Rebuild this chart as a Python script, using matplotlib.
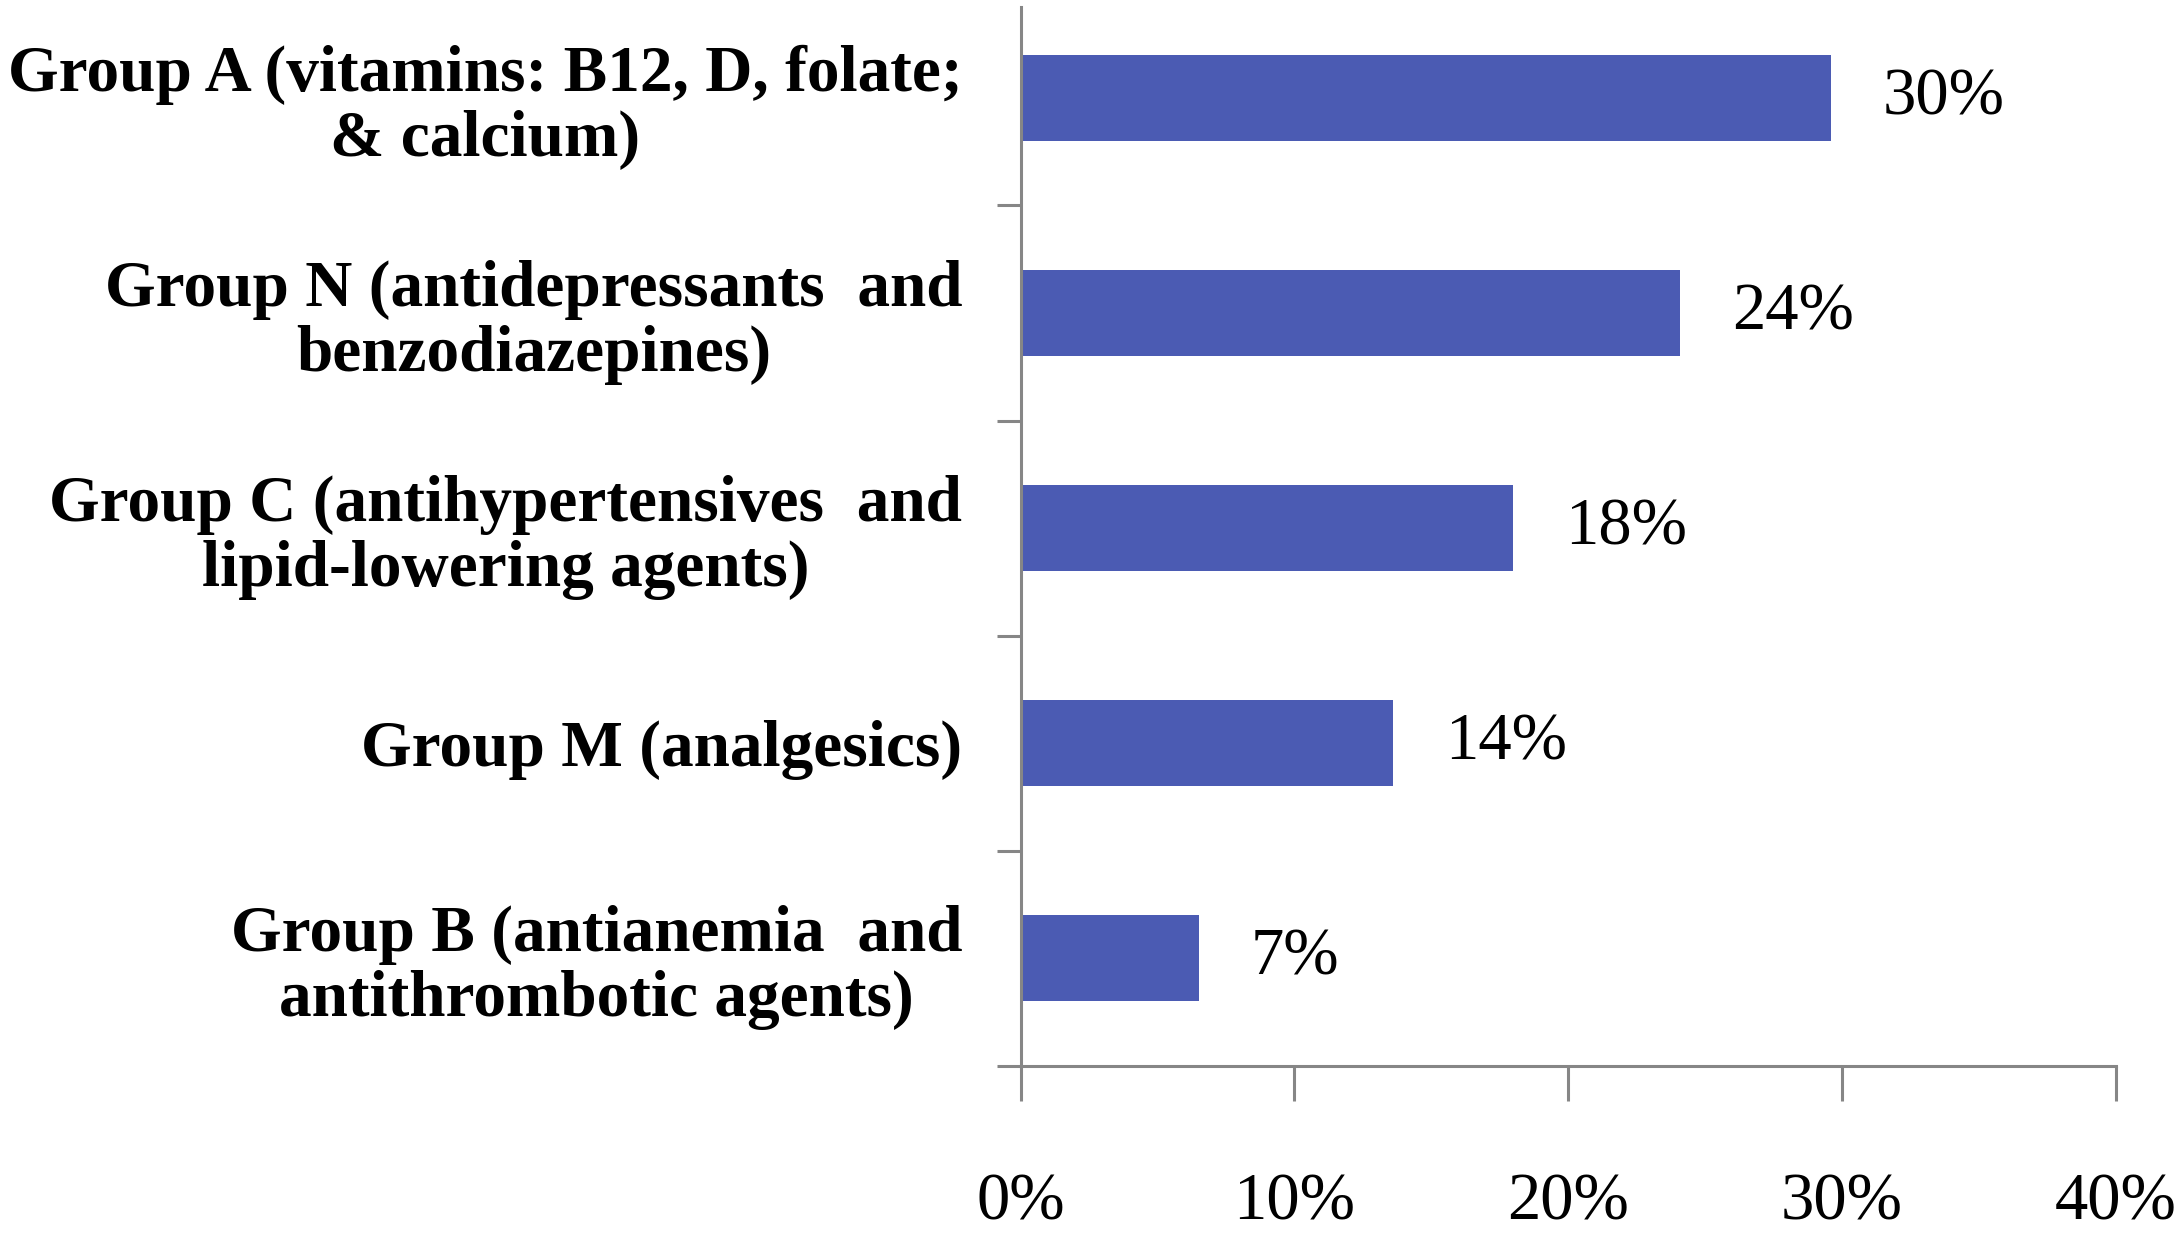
import matplotlib
matplotlib.use("Agg")
import matplotlib.pyplot as plt
from matplotlib.ticker import FixedLocator

categories = [
    "Group A (vitamins: B12, D, folate;\n& calcium)",
    "Group N (antidepressants  and\nbenzodiazepines)",
    "Group C (antihypertensives  and\nlipid-lowering agents)",
    "Group M (analgesics)",
    "Group B (antianemia  and\nantithrombotic agents)",
]
values = [29.6, 24.1, 18.0, 13.6, 6.5]
value_labels = ["30%", "24%", "18%", "14%", "7%"]
xticks = [0, 10, 20, 30, 40]
xtick_labels = ["0%", "10%", "20%", "30%", "40%"]

plt.rcParams['font.family'] = ['Liberation Serif', 'DejaVu Serif']

fig = plt.figure(figsize=(21.81, 12.41), dpi=100)
ax = fig.add_axes([0.468, 0.141, 0.502, 0.853])

ypos = list(range(len(categories)))
ax.barh(ypos, values, height=0.40, color='#4B5BB3')
ax.set_ylim(4.5, -0.42)
ax.set_xlim(0, 40)

for y, v, lab in zip(ypos, values, value_labels):
    ax.text(v + 1.9, y, lab, va='center', ha='left', fontsize=48)

ax.set_yticks(ypos)
ax.set_yticklabels(categories, fontsize=47, fontweight='bold', ha='right',
                   multialignment='center', linespacing=1.1)
ax.tick_params(axis='y', which='major', length=0, pad=42)
ax.yaxis.set_minor_locator(FixedLocator([0.5, 1.5, 2.5, 3.5, 4.5]))
ax.tick_params(axis='y', which='minor', length=17, width=2.2, color='#868686', direction='out')

ax.set_xticks(xticks)
ax.set_xticklabels(xtick_labels, fontsize=48)
ax.tick_params(axis='x', which='major', length=25, width=2.2, color='#868686',
               direction='out', pad=52)

for s in ['top', 'right']:
    ax.spines[s].set_visible(False)
for s in ['left', 'bottom']:
    ax.spines[s].set_color('#868686')
    ax.spines[s].set_linewidth(2.2)

fig.savefig('out.png', dpi=100, facecolor='white')
